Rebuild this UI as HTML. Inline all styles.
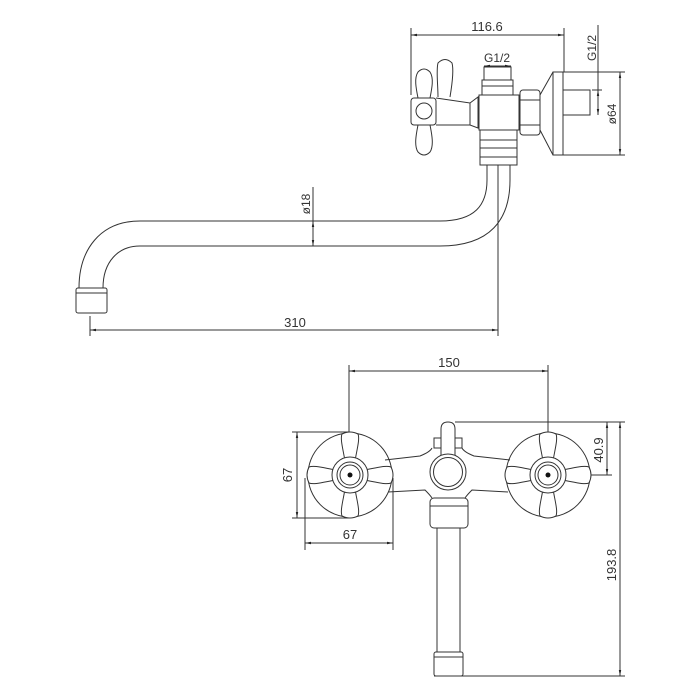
<!DOCTYPE html>
<html><head><meta charset="utf-8"><style>
html,body{margin:0;padding:0;background:#fff;}
svg{display:block;}
text{font-family:"Liberation Sans",sans-serif;font-size:13px;fill:#333;}
</style></head><body>
<svg width="700" height="700" viewBox="0 0 700 700" xmlns="http://www.w3.org/2000/svg">
<defs>
<marker id="a" viewBox="0 0 10 10" refX="10" refY="5" markerWidth="6" markerHeight="6" orient="auto-start-reverse"><path d="M0,3 L10,5 L0,7z" fill="#222"/></marker>
<g id="cross">
 <circle r="42" fill="none" stroke="#333" stroke-width="1"/>
 <g fill="#fff" stroke="#333" stroke-width="1">
  <path d="M-5,-14 C-7,-26 -10,-36 -8,-41 Q0,-45 8,-41 C10,-36 7,-26 5,-14Z"/>
  <path d="M-5,-14 C-7,-26 -10,-36 -8,-41 Q0,-45 8,-41 C10,-36 7,-26 5,-14Z" transform="rotate(90)"/>
  <path d="M-5,-14 C-7,-26 -10,-36 -8,-41 Q0,-45 8,-41 C10,-36 7,-26 5,-14Z" transform="rotate(180)"/>
  <path d="M-5,-14 C-7,-26 -10,-36 -8,-41 Q0,-45 8,-41 C10,-36 7,-26 5,-14Z" transform="rotate(270)"/>
  <circle r="18"/><circle r="13"/><circle r="10"/>
 </g>
 <circle r="2.5" fill="#111"/>
</g>
</defs>
<g fill="none" stroke="#333" stroke-width="1">
<line x1="411" y1="28" x2="411" y2="95"/>
<line x1="564" y1="28" x2="564" y2="72"/>
<line x1="411" y1="35" x2="564" y2="35" marker-start="url(#a)" marker-end="url(#a)"/>
<line x1="484" y1="66" x2="511" y2="66" marker-start="url(#a)" marker-end="url(#a)"/>
<line x1="598" y1="25" x2="598" y2="115"/>
<line x1="592" y1="90" x2="602" y2="90"/>
<line x1="598" y1="90" x2="598" y2="115" marker-start="url(#a)" marker-end="url(#a)"/>
<line x1="620" y1="72" x2="620" y2="155" marker-start="url(#a)" marker-end="url(#a)"/>
<line x1="553" y1="72" x2="625" y2="72"/>
<line x1="553" y1="155" x2="625" y2="155"/>
<rect x="553" y="72" width="10" height="83"/>
<rect x="563" y="90" width="27" height="25"/>
<path d="M540,95 L553,72 M540,130 L553,155"/>
<rect x="520" y="90" width="20" height="45" rx="3"/>
<path d="M520,100 H540 M520,125 H540"/>
<rect x="484" y="67" width="27" height="13"/>
<rect x="482" y="80" width="31" height="15"/>
<line x1="482" y1="86" x2="513" y2="86"/>
<rect x="479" y="95" width="40" height="35"/>
<rect x="480" y="130" width="37" height="35"/>
<path d="M480,140 H517 M480,148 H517 M480,157 H517"/>
<path d="M436,98 L470,103 L478,97 V128 L470,125 L436,125"/>
<line x1="470" y1="103" x2="470" y2="125"/>
<rect x="411" y="98" width="25" height="27" rx="3"/>
<circle cx="424" cy="111" r="8"/>
<path d="M418,98 C416,88 414,78 418,72 Q424,66 430,72 C434,78 432,88 430,98"/>
<path d="M438,97 C438,85 436,70 438,63 Q445,56 452,63 C454,70 452,85 450,97"/>
<path d="M418,125 C416,135 414,146 418,152 Q424,158 430,152 C434,146 432,135 430,125"/>
<path d="M487,165 V180 C487,205 475,221 440,221 H140 C100,221 79,250 79,288"/>
<path d="M510,165 V180 C510,220 490,246 440,246 H140 C118,246 103,262 103,288"/>
<rect x="76" y="288" width="31" height="25" rx="2"/>
<line x1="76" y1="293" x2="107" y2="293"/>
<line x1="498" y1="165" x2="498" y2="336"/>
<line x1="90" y1="316" x2="90" y2="336"/>
<line x1="90" y1="330" x2="498" y2="330" marker-start="url(#a)" marker-end="url(#a)"/>
<line x1="313" y1="187" x2="313" y2="221"/>
<line x1="313" y1="221" x2="313" y2="246" marker-start="url(#a)" marker-end="url(#a)"/>

<line x1="349" y1="365" x2="349" y2="432"/>
<line x1="548" y1="365" x2="548" y2="432"/>
<line x1="349" y1="371" x2="548" y2="371" marker-start="url(#a)" marker-end="url(#a)"/>
<line x1="292" y1="432" x2="350" y2="432"/>
<line x1="292" y1="518" x2="350" y2="518"/>
<line x1="297" y1="432" x2="297" y2="518" marker-start="url(#a)" marker-end="url(#a)"/>
<line x1="305" y1="478" x2="305" y2="550"/>
<line x1="393" y1="478" x2="393" y2="550"/>
<line x1="305" y1="543" x2="393" y2="543" marker-start="url(#a)" marker-end="url(#a)"/>
<line x1="455" y1="422" x2="625" y2="422"/>
<line x1="548" y1="475" x2="612" y2="475"/>
<line x1="607" y1="422" x2="607" y2="475" marker-start="url(#a)" marker-end="url(#a)"/>
<line x1="620" y1="422" x2="620" y2="676" marker-start="url(#a)" marker-end="url(#a)"/>
<line x1="434" y1="676" x2="625" y2="676"/>
<path d="M385,460 L420,456 Q430,452 432,448 M462,448 Q464,452 474,456 L510,460"/>
<path d="M388,492 L425,490 Q430,495 432,498 M465,498 Q467,495 472,490 L508,492"/>
<path d="M441,455 V429 Q441,422 448,422 Q455,422 455,429 V455"/>
<rect x="434" y="438" width="7" height="10"/>
<rect x="455" y="438" width="7" height="10"/>
<circle cx="448" cy="472" r="18" fill="#fff"/>
<circle cx="448" cy="472" r="14.5"/>
<rect x="430" y="498" width="38" height="30" rx="4"/>
<line x1="430" y1="506" x2="468" y2="506"/>
<rect x="437" y="528" width="23" height="124"/>
<rect x="434" y="652" width="29" height="24" rx="2"/>
<line x1="434" y1="657" x2="463" y2="657"/>
</g>
<use href="#cross" x="350" y="475"/>
<use href="#cross" x="548" y="475"/>
<text x="487" y="31" text-anchor="middle">116.6</text>
<text x="497" y="62" text-anchor="middle" style="font-size:12px">G1/2</text>
<text transform="translate(596,48) rotate(-90)" text-anchor="middle" style="font-size:12px">G1/2</text>
<text transform="translate(616,114) rotate(-90)" text-anchor="middle" style="font-size:12px">ø64</text>
<text transform="translate(310,204) rotate(-90)" text-anchor="middle" style="font-size:12px">ø18</text>
<text x="295" y="327" text-anchor="middle">310</text>
<text x="449" y="367" text-anchor="middle">150</text>
<text transform="translate(292,475) rotate(-90)" text-anchor="middle">67</text>
<text x="350" y="539" text-anchor="middle">67</text>
<text transform="translate(603,450) rotate(-90)" text-anchor="middle">40.9</text>
<text transform="translate(616,565) rotate(-90)" text-anchor="middle">193.8</text>
</svg>
</body></html>
